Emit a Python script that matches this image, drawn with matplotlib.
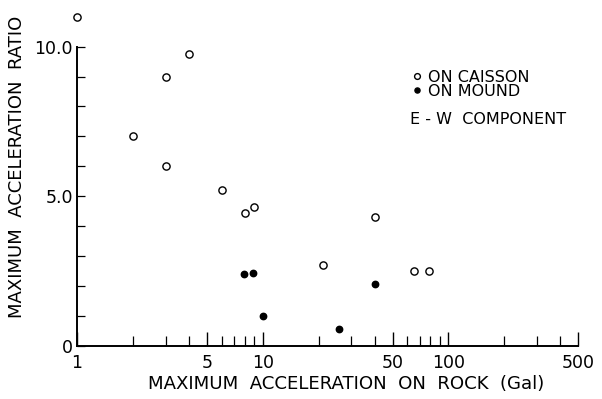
import matplotlib
matplotlib.use("Agg")
import matplotlib.pyplot as plt
from matplotlib.ticker import FixedLocator, FixedFormatter, NullFormatter

# open circles: on caisson
caisson_x = [1, 2, 3, 3, 4, 6, 8, 9, 21, 40, 65, 79]
caisson_y = [11.0, 7.0, 9.0, 6.0, 9.75, 5.2, 4.45, 4.65, 2.7, 4.3, 2.5, 2.5]

# filled circles: on mound
mound_x = [7.9, 8.9, 10, 25.6, 40]
mound_y = [2.4, 2.43, 1.0, 0.55, 2.05]

x_ticks = [1, 5, 10, 50, 100, 500]
x_tick_labels = ["1", "5", "10", "50", "100", "500"]
x_minor = [2, 3, 4, 6, 7, 8, 9, 20, 30, 40, 60, 70, 80, 90, 200, 300, 400]
y_ticks = [0, 5, 10]
y_tick_labels = ["0", "5.0", "10.0"]
y_minor = [1, 2, 3, 4, 6, 7, 8, 9]

fig = plt.figure(figsize=(6.02, 3.99), dpi=100)
ax = fig.add_axes([0.1279, 0.1336, 0.8327, 0.7494])

ax.plot(caisson_x, caisson_y, "o", mfc="white", mec="black", mew=1.0, ms=5.2,
        clip_on=False, label="ON CAISSON")
ax.plot(mound_x, mound_y, "o", mfc="black", mec="black", ms=4.6,
        clip_on=False, label="ON MOUND")

ax.set_xscale("log")
ax.set_xlim(1, 500)
ax.set_ylim(0, 10)

ax.xaxis.set_major_locator(FixedLocator(x_ticks))
ax.xaxis.set_major_formatter(FixedFormatter(x_tick_labels))
ax.xaxis.set_minor_locator(FixedLocator(x_minor))
ax.xaxis.set_minor_formatter(NullFormatter())
ax.yaxis.set_major_locator(FixedLocator(y_ticks))
ax.yaxis.set_major_formatter(FixedFormatter(y_tick_labels))
ax.yaxis.set_minor_locator(FixedLocator(y_minor))

for s in ["top", "right"]:
    ax.spines[s].set_visible(False)
for s in ["left", "bottom"]:
    ax.spines[s].set_linewidth(1.4)

ax.tick_params(axis="x", which="major", direction="in", length=10, width=1.0,
               labelsize=12.5, pad=6)
ax.tick_params(axis="x", which="minor", direction="in", length=7, width=0.9)
ax.tick_params(axis="y", which="major", direction="in", length=6, width=0.9,
               labelsize=12.5, pad=3)
ax.tick_params(axis="y", which="minor", direction="in", length=6, width=0.9)

ax.set_xlabel("MAXIMUM  ACCELERATION  ON  ROCK  (Gal)", fontsize=13.1)
ax.xaxis.set_label_coords(0.537, -0.098)
ax.set_ylabel("MAXIMUM  ACCELERATION  RATIO", fontsize=13.0)
ax.yaxis.set_label_coords(-0.101, 0.598)

leg = ax.legend(loc="upper left", bbox_to_anchor=(0.655, 0.95), frameon=False,
                fontsize=11.5, handlelength=0.4, handletextpad=0.55,
                labelspacing=-0.05, borderpad=0, markerscale=0.8)
fig.text(0.681, 0.70, "E - W  COMPONENT", fontsize=11.5, va="center")

fig.savefig("out.png", dpi=100)
